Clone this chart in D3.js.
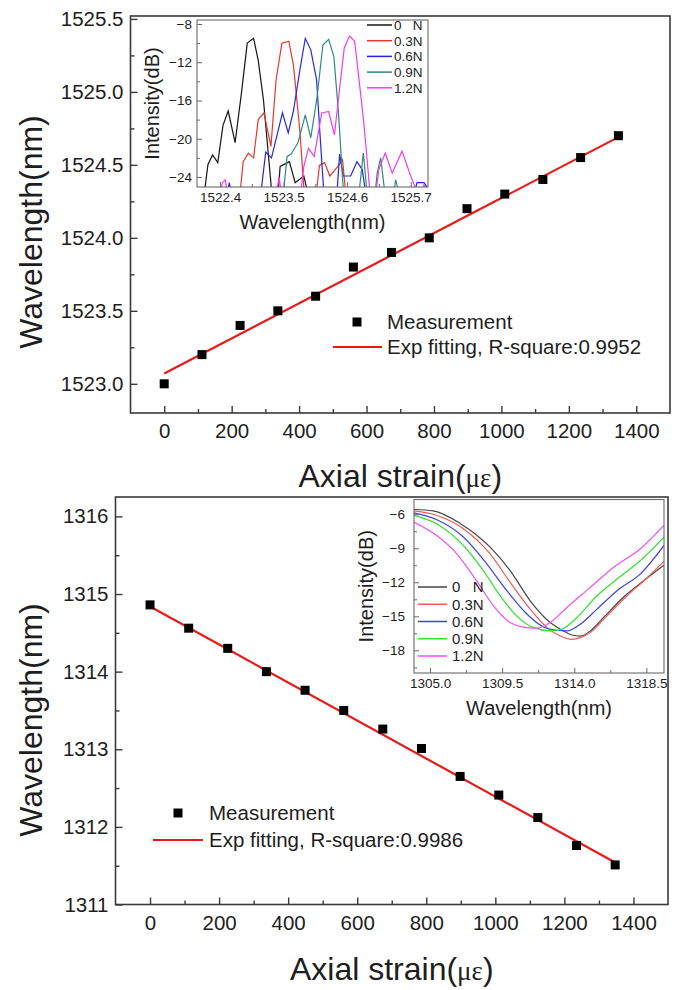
<!DOCTYPE html>
<html>
<head>
<meta charset="utf-8">
<script src="https://cdn.jsdelivr.net/npm/d3@7"></script>
<style>
  body { margin: 0; background: #fff; }
  text { font-family: "Liberation Sans", Arial, sans-serif; fill: #1e1e1e; }
</style>
</head>
<body>
<div id="chart"></div>
<script>
// ---- data ----
var strain = [0, 112, 225, 337, 449, 561, 674, 786, 898, 1010, 1123, 1235, 1347];
var fbgPeak = [1523.0, 1523.2, 1523.4, 1523.5, 1523.6, 1523.8, 1523.9, 1524.0, 1524.2, 1524.3, 1524.4, 1524.55, 1524.7];
var lpgDip = [1314.86, 1314.56, 1314.30, 1314.00, 1313.76, 1313.50, 1313.26, 1313.01, 1312.65, 1312.41, 1312.12, 1311.76, 1311.51];

// fitted lines (end points)
var fbgFitX = [0, 1347], fbgFitY = [1523.07, 1524.69];
var lpgFitX = [0, 1347], lpgFitY = [1314.84, 1311.54];

var forceLabels = ["0   N", "0.3N", "0.6N", "0.9N", "1.2N"];
var fbgLegend = "Exp fitting, R-square:0.9952";
var lpgLegend = "Exp fitting, R-square:0.9986";

// top inset: FBG spectra [wavelength nm, intensity dB]
var fbg0N = [[1522.12,-26],[1522.19,-22.7],[1522.27,-21.7],[1522.36,-22.5],[1522.45,-18.6],[1522.54,-17.1],
  [1522.66,-20.4],[1522.77,-15.2],[1522.87,-10.0],[1522.98,-9.5],[1523.06,-11.8],[1523.15,-15.9],[1523.3,-26],
  [1523.40,-26],[1523.44,-22.9],[1523.60,-22.4],[1523.70,-24.6],[1523.85,-23.9],[1523.93,-26]];
var fbg03N = [[1522.74,-26],[1522.80,-22.4],[1522.89,-21.5],[1522.98,-22.0],[1523.06,-18.0],[1523.16,-17.3],
  [1523.28,-20.8],[1523.37,-13.8],[1523.47,-10.0],[1523.59,-9.8],[1523.67,-12.3],[1523.78,-19.1],[1523.86,-26],
  [1524.06,-26],[1524.12,-22.8],[1524.21,-22.5],[1524.30,-23.9],[1524.44,-22.9],[1524.52,-22.2],[1524.58,-26]];
var fbg06N = [[1522.52,-26],[1522.56,-24.6],[1522.60,-26],
  [1523.10,-26],[1523.19,-21.4],[1523.29,-22.0],[1523.48,-17.3],[1523.58,-19.4],[1523.67,-17.1],[1523.79,-12.5],
  [1523.875,-9.5],[1523.97,-10.7],[1524.07,-13.8],[1524.14,-20.5],[1524.20,-26],
  [1524.42,-26],[1524.47,-21.6],[1524.53,-23.9],[1524.66,-23.9],[1524.77,-22.4],[1524.86,-23.2],[1524.93,-26],
  [1525.75,-26],[1525.81,-24.6],[1525.93,-24.6],[1526.0,-25.2]];
var fbg09N = [[1523.49,-26],[1523.56,-21.85],[1523.63,-21.6],[1523.75,-20.4],[1523.875,-17.5],[1523.97,-19.9],
  [1524.08,-15.6],[1524.18,-10.2],[1524.28,-9.6],[1524.37,-11.4],[1524.45,-17.3],[1524.54,-26],
  [1524.80,-26],[1524.88,-21.5],[1524.95,-26],
  [1525.08,-26],[1525.12,-23.6],[1525.18,-22.0],[1525.26,-26],
  [1525.40,-26],[1525.44,-24.3],[1525.51,-26]];
var fbg12N = [[1522.39,-26],[1522.44,-24.6],[1522.49,-24.3],[1522.53,-26],
  [1523.37,-26],[1523.42,-24.0],[1523.47,-26],
  [1523.79,-26],[1523.85,-22.9],[1523.93,-21.0],[1524.03,-21.85],[1524.16,-17.3],[1524.28,-17.15],[1524.38,-19.6],
  [1524.47,-14.7],[1524.55,-10.5],[1524.64,-9.25],[1524.73,-9.8],[1524.80,-13.5],[1524.89,-18.4],[1524.96,-23.2],[1525.0,-26],
  [1525.09,-26],[1525.15,-23.2],[1525.26,-21.5],[1525.38,-23.6],[1525.55,-21.3],[1525.70,-23.9],[1525.84,-26],
  [1525.88,-26],[1525.93,-24.8],[1526.0,-25.4]];

// bottom inset: LPG spectra [wavelength nm, intensity dB]
var lpg0N = [[1304.0,-5.58],[1305.2,-5.71],[1306.9,-6.83],[1308.75,-8.9],[1310.0,-10.97],[1311.25,-13.63],
  [1312.5,-15.55],[1313.33,-16.29],[1313.85,-16.65],[1314.38,-16.74],[1315.0,-16.29],[1315.83,-15.1],
  [1317.08,-13.3],[1318.33,-11.86],[1319.6,-10.5]];
var lpg03N = [[1304.0,-5.71],[1305.4,-6.09],[1307.08,-7.27],[1308.75,-9.49],[1310.0,-12.0],[1311.25,-14.37],
  [1312.3,-16.0],[1313.13,-16.74],[1313.85,-17.03],[1314.38,-16.88],[1315.0,-16.44],[1316.04,-14.96],
  [1317.3,-13.19],[1318.54,-11.62],[1319.6,-10.14]];
var lpg06N = [[1304.0,-5.88],[1305.4,-6.47],[1307.08,-8.01],[1308.54,-10.37],[1309.79,-12.74],[1311.04,-14.8],
  [1312.08,-15.94],[1312.92,-16.23],[1313.54,-16.29],[1314.38,-15.7],[1315.42,-14.37],[1316.67,-12.74],
  [1318.13,-11.26],[1319.6,-8.75]];
var lpg09N = [[1304.0,-6.09],[1305.4,-6.83],[1306.88,-8.45],[1308.33,-10.97],[1309.38,-13.19],[1310.4,-14.96],
  [1311.46,-16.0],[1312.5,-16.29],[1313.23,-16.14],[1314.17,-15.1],[1315.42,-13.19],[1316.67,-11.71],
  [1318.13,-10.08],[1319.6,-8.01]];
var lpg12N = [[1304.0,-6.68],[1305.4,-7.86],[1306.67,-9.49],[1307.9,-11.86],[1308.96,-14.07],[1310.0,-15.55],
  [1311.04,-16.0],[1311.67,-16.05],[1312.5,-15.55],[1313.54,-14.22],[1315.0,-12.45],[1316.46,-10.67],
  [1318.13,-9.04],[1319.6,-6.98]];

var fbgColors = ["#151515", "#e8382c", "#2626e0", "#2e8a7c", "#f23cf0"];
var lpgColors = ["#454545", "#ef5a55", "#3a44e0", "#34e034", "#f050f0"];

// ---- drawing ----
var svg = d3.select("#chart")
  .append("svg")
  .attr("width", 686)
  .attr("height", 990);

// draw inward ticks + frame for a plot box
function drawAxes(g, x, y, o) {
  var bottom = y.range()[0], top = y.range()[1];
  var left = x.range()[0], right = x.range()[1];

  var xa = g.append("g").attr("transform", `translate(0,${bottom})`)
    .call(d3.axisBottom(x).tickValues(o.xMajor).tickSize(-o.major).tickSizeOuter(0)
      .tickPadding(o.xPad).tickFormat(o.xFmt));
  var xm = g.append("g").attr("transform", `translate(0,${bottom})`)
    .call(d3.axisBottom(x).tickValues(o.xMinor).tickSize(-o.minor).tickSizeOuter(0).tickFormat(""));
  var ya = g.append("g").attr("transform", `translate(${left},0)`)
    .call(d3.axisLeft(y).tickValues(o.yMajor).tickSize(-o.major).tickSizeOuter(0)
      .tickPadding(o.yPad).tickFormat(o.yFmt));
  var ym = g.append("g").attr("transform", `translate(${left},0)`)
    .call(d3.axisLeft(y).tickValues(o.yMinor).tickSize(-o.minor).tickSizeOuter(0).tickFormat(""));

  [xa, xm, ya, ym].forEach(function (a) {
    a.select(".domain").remove();
    a.attr("font-family", null).attr("font-size", null);
    a.selectAll("line").attr("stroke", o.frameColor).attr("stroke-width", o.tickWidth);
    a.selectAll("text").style("font-size", o.tickFont + "px").attr("fill", "#1e1e1e");
  });

  g.append("rect")
    .attr("x", left).attr("y", top)
    .attr("width", right - left).attr("height", bottom - top)
    .attr("fill", "none")
    .attr("stroke", o.frameColor)
    .attr("stroke-width", o.frameWidth);
}

function strainTitles(g, cx, baseY, ty, tyCenter) {
  var t = g.append("text")
    .attr("x", cx).attr("y", baseY)
    .attr("text-anchor", "middle")
    .style("font-size", "32px");
  t.append("tspan").text("Axial strain(");
  t.append("tspan").style("font-family", "'Liberation Serif', 'Times New Roman', serif")
    .style("font-size", "27px").text("\u03bc\u03b5");
  t.append("tspan").text(")");

  g.append("text")
    .attr("transform", `translate(${ty},${tyCenter}) rotate(-90)`)
    .attr("text-anchor", "middle")
    .attr("dy", "0.35em")
    .style("font-size", "32px")
    .text("Wavelength(nm)");
}

function mainPanel(o) {
  var g = svg.append("g");
  var x = d3.scaleLinear().domain([-100, 1500]).range([o.left, o.right]);
  var y = d3.scaleLinear().domain(o.yDomain).range([o.bottom, o.top]);

  drawAxes(g, x, y, {
    xMajor: d3.range(0, 1401, 200), xMinor: d3.range(100, 1400, 200),
    yMajor: o.yMajor, yMinor: o.yMinor,
    xFmt: d3.format("d"), yFmt: o.yFmt,
    major: 7, minor: 4, xPad: o.xPad, yPad: 7,
    tickFont: 20.5, frameColor: "#3a3a3a", frameWidth: 1.6, tickWidth: 1.4
  });

  // fit line
  var fit = fbgFitX.map(function (d, i) { return [o.fitX[i], o.fitY[i]]; });
  g.append("path")
    .datum(fit)
    .attr("d", d3.line().x(d => x(d[0])).y(d => y(d[1])))
    .attr("fill", "none")
    .attr("stroke", "#e81a1a")
    .attr("stroke-width", 2.2);

  // measurement squares
  g.selectAll("rect.pt")
    .data(o.values)
    .enter()
    .append("rect")
    .attr("class", "pt")
    .attr("x", (d, i) => x(strain[i]) - 4.5)
    .attr("y", d => y(d) - 4.5)
    .attr("width", 9).attr("height", 9)
    .attr("fill", "#000");

  // legend
  var lg = o.legend;
  g.append("rect").attr("x", lg.sqX - 4.5).attr("y", lg.row1 - 4.5)
    .attr("width", 9).attr("height", 9).attr("fill", "#000");
  g.append("text").attr("x", lg.textX).attr("y", lg.row1).attr("dy", "0.35em")
    .style("font-size", "20.5px").text("Measurement");
  g.append("line").attr("x1", lg.lineX0).attr("x2", lg.lineX1)
    .attr("y1", lg.row2).attr("y2", lg.row2)
    .attr("stroke", "#e81a1a").attr("stroke-width", 2.2);
  g.append("text").attr("x", lg.textX).attr("y", lg.row2).attr("dy", "0.35em")
    .style("font-size", "20.5px").text(o.fitLabel);

  strainTitles(g, (o.left + o.right) / 2, o.titleBase, 31, o.yTitleCenter);
  return g;
}

function insetPanel(o) {
  var g = svg.append("g");
  var x = d3.scaleLinear().domain(o.xDomain).range([o.left, o.right]);
  var y = d3.scaleLinear().domain(o.yDomain).range([o.bottom, o.top]);

  g.append("rect").attr("x", o.left).attr("y", o.top)
    .attr("width", o.right - o.left).attr("height", o.bottom - o.top)
    .attr("fill", "#fff");

  var clipId = o.id + "-clip";
  g.append("clipPath").attr("id", clipId)
    .append("rect").attr("x", o.left).attr("y", o.top)
    .attr("width", o.right - o.left).attr("height", o.bottom - o.top);

  var line = d3.line().x(d => x(d[0])).y(d => y(d[1])).curve(o.curve);
  g.append("g").attr("clip-path", `url(#${clipId})`)
    .selectAll("path")
    .data(o.series)
    .enter()
    .append("path")
    .attr("d", line)
    .attr("fill", "none")
    .attr("stroke", (d, i) => o.colors[i])
    .attr("stroke-width", o.lineWidth);

  drawAxes(g, x, y, {
    xMajor: o.xMajor, xMinor: o.xMinor, yMajor: o.yMajor, yMinor: o.yMinor,
    xFmt: d3.format(".1f"), yFmt: d3.format("d"),
    major: 5, minor: 3, xPad: 5, yPad: o.yPad,
    tickFont: 13.5, frameColor: "#6a6a6a", frameWidth: 1.1, tickWidth: 1
  });

  // legend
  var lg = o.legend;
  forceLabels.forEach(function (lab, i) {
    var yy = lg.y0 + i * lg.step;
    g.append("line").attr("x1", lg.x0).attr("x2", lg.x1)
      .attr("y1", yy).attr("y2", yy)
      .attr("stroke", o.colors[i]).attr("stroke-width", o.lineWidth + 0.3);
    g.append("text").attr("x", lg.textX).attr("y", yy).attr("dy", "0.36em")
      .style("font-size", lg.font + "px")
      .style("white-space", "pre")
      .attr("xml:space", "preserve")
      .text(lab);
  });

  g.append("text")
    .attr("transform", `translate(${o.yTitleX},${(o.top + o.bottom) / 2}) rotate(-90)`)
    .attr("text-anchor", "middle").attr("dy", "0.35em")
    .style("font-size", "20px").text("Intensity(dB)");
  g.append("text")
    .attr("x", (o.left + o.right) / 2).attr("y", o.xTitleBase)
    .attr("text-anchor", "middle")
    .style("font-size", "20px").text("Wavelength(nm)");
}

// ---- top panel: FBG ----
mainPanel({
  left: 130.5, right: 670, top: 16, bottom: 413,
  yDomain: [1522.8, 1525.52],
  yMajor: d3.range(1523, 1525.51, 0.5), yMinor: d3.range(1523.25, 1525.3, 0.5),
  yFmt: d3.format(".1f"), xPad: 10,
  values: fbgPeak, fitX: fbgFitX, fitY: fbgFitY, fitLabel: fbgLegend,
  legend: { sqX: 357, textX: 387, row1: 322, row2: 347, lineX0: 333, lineX1: 382 },
  titleBase: 487, yTitleCenter: 232
});

insetPanel({
  id: "fbg", left: 197, right: 428, top: 20, bottom: 187,
  xDomain: [1522, 1526], yDomain: [-25.05, -7.58],
  xMajor: [1522.4, 1523.5, 1524.6, 1525.7], xMinor: [1522.95, 1524.05, 1525.15],
  yMajor: [-8, -12, -16, -20, -24], yMinor: [-10, -14, -18, -22],
  yPad: 5, series: [fbg0N, fbg03N, fbg06N, fbg09N, fbg12N], colors: fbgColors,
  curve: d3.curveLinear, lineWidth: 1.2,
  legend: { x0: 367, x1: 392, textX: 394, y0: 25, step: 15.7, font: 13.5 },
  yTitleX: 152, xTitleBase: 229
});

// ---- bottom panel: LPG ----
mainPanel({
  left: 115.5, right: 668, top: 497, bottom: 904.5,
  yDomain: [1311, 1316.25],
  yMajor: d3.range(1311, 1316.1, 1), yMinor: d3.range(1311.5, 1316, 1),
  yFmt: d3.format("d"), xPad: 11,
  values: lpgDip, fitX: lpgFitX, fitY: lpgFitY, fitLabel: lpgLegend,
  legend: { sqX: 178, textX: 209, row1: 813, row2: 840, lineX0: 153, lineX1: 203 },
  titleBase: 980, yTitleCenter: 720
});

insetPanel({
  id: "lpg", left: 414, right: 664, top: 499.5, bottom: 673,
  xDomain: [1304, 1319.6], yDomain: [-20, -4.7],
  xMajor: [1305, 1309.5, 1314, 1318.5], xMinor: [1307.25, 1311.75, 1316.25],
  yMajor: [-6, -9, -12, -15, -18], yMinor: [-7.5, -10.5, -13.5, -16.5, -19.5],
  yPad: 9, series: [lpg0N, lpg03N, lpg06N, lpg09N, lpg12N], colors: lpgColors,
  curve: d3.curveMonotoneX, lineWidth: 1.2,
  legend: { x0: 418, x1: 447, textX: 452, y0: 587, step: 17.25, font: 15 },
  yTitleX: 366, xTitleBase: 715
});
</script>
</body>
</html>
